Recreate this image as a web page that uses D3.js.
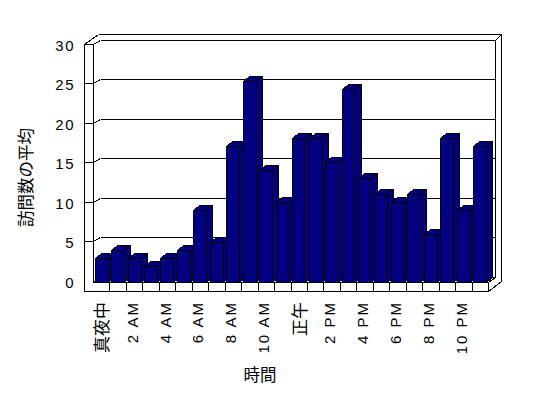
<!DOCTYPE html>
<html><head><meta charset="utf-8">
<script src="https://cdn.jsdelivr.net/npm/d3@7"></script>
<style>body{margin:0;background:#fff;overflow:hidden}</style>
</head><body><svg id="c" width="548" height="398"></svg>
<script>
const categories = ["真夜中","1 AM","2 AM","3 AM","4 AM","5 AM","6 AM","7 AM","8 AM","9 AM","10 AM","11 AM",
  "正午","1 PM","2 PM","3 PM","4 PM","5 PM","6 PM","7 PM","8 PM","9 PM","10 PM","11 PM"];
const visits = [3,4,3,2,3,4,9,5,17,25.1,14,10,18,18,15,24.1,13,11,10,11,6,18,9,17];
const yTicks = [0,5,10,15,20,25,30];
const xTickLabels = ["真夜中","2 AM","4 AM","6 AM","8 AM","10 AM","正午","2 PM","4 PM","6 PM","8 PM","10 PM"];
const xTitle = "時間";
const yTitle = "訪問数の平均";

const svg = d3.select("#c").attr("shape-rendering","crispEdges");
const FONT = "'Liberation Sans', Arial, 'Noto Sans CJK JP', sans-serif";

const x = d3.scaleBand().domain(categories).range([93, 488]).paddingInner(0.2).paddingOuter(0.1);
const step = x.step();
const yF = d3.scaleLinear().domain([0, 30]).range([282, 42]);   // front plane (bars)
const yB = d3.scaleLinear().domain([0, 30]).range([276.5, 40]); // back wall
const yS = v => Math.round(yB(v) + 4);                           // side-wall front strip
const r = v => Math.round(v) + 0.5;

const g = svg.append("g").attr("stroke", "#000").attr("stroke-width", 1).attr("fill", "none");
function line(x1, y1, x2, y2) {
  g.append("path").attr("d", `M${r(x1)},${r(y1)}L${r(x2)},${r(y2)}`);
}

// back wall & gridlines
yTicks.forEach(v => line(100, yB(v), 495, yB(v)));
line(495, yB(30), 495, yB(0));
line(98, 34, 501, 34);
line(501, 34, 501, 281);
line(495, yB(30), 501, 34);
line(84, yS(30), 98, 34);
line(93, yS(30), 100, yB(30));
// left wall strip
line(84, yS(30), 84, 291);
line(93, yS(30), 93, 282);
yTicks.filter(v => v > 0).forEach(v => {
  line(84, yS(v), 93, yS(v));
  line(93, yS(v), 100, yB(v));
});
line(93, 282, 100, yB(0));
// floor
line(488, 282, 495, yB(0));
line(488, 291, 501, 281);

// bars
const dx = 6, dy = 5, base = 282, W = Math.round(x.bandwidth());
const bars = svg.append("g").attr("fill", "#000080").attr("stroke", "#000");
categories.forEach((c, i) => {
  const L = Math.round(x(c)), R = L + W, T = Math.round(yF(visits[i]));
  const b = bars.append("g");
  b.append("path").attr("d", `M${R+.5},${T+.5}L${R+dx+.5},${T-dy+.5}V${base-dy+.5}L${R+.5},${base+.5}Z`);
  b.append("path").attr("d", `M${L+.5},${T+.5}L${L+dx+.5},${T-dy+.5}H${R+dx+.5}L${R+.5},${T+.5}Z`);
  b.append("path").attr("d", `M${L+.5},${T+.5}H${R+.5}V${base+.5}H${L+.5}Z`);
});

// floor front face
line(93, 282, 488, 282);
line(84, 291, 488, 291);
line(488, 282, 488, 291);
categories.forEach((c, i) => { if (i > 0) line(93 + i * step, 282, 93 + i * step, 291); });

// y tick labels
const isCJK = s => /[^\x00-\x7f]/.test(s);
svg.append("g").selectAll("text").data(yTicks).join("text")
  .attr("x", 75).attr("y", v => yS(v) + 1)
  .attr("text-anchor", "end").attr("dominant-baseline", "central")
  .attr("font-family", FONT).attr("font-size", 15).attr("letter-spacing", 1.5)
  .text(v => v);

// x tick labels
svg.append("g").selectAll("text").data(xTickLabels).join("text")
  .attr("transform", (d, k) => {
    const c = x(categories[k * 2]) - x.step() * 0.1 + step / 2;
    const X = isCJK(d) ? c + 7 : c + 3.5;
    const Y = isCJK(d) ? 302 : 301;
    return `translate(${X},${Y}) rotate(-90)`;
  })
  .attr("text-anchor", "end")
  .attr("font-family", FONT)
  .attr("font-size", d => isCJK(d) ? 17 : 15)
  .attr("letter-spacing", d => isCJK(d) ? 0 : 2)
  .text(d => d);

// axis titles
svg.append("text").attr("transform", "translate(260,374.5)")
  .attr("text-anchor", "middle").attr("dominant-baseline", "central")
  .attr("font-family", FONT).attr("font-size", 16.5).text(xTitle);
svg.append("text").attr("transform", "translate(25.5,177.5) rotate(-90)")
  .attr("text-anchor", "middle").attr("dominant-baseline", "central")
  .attr("font-family", FONT).attr("font-size", 16.5).text(yTitle);
</script>
</body></html>
